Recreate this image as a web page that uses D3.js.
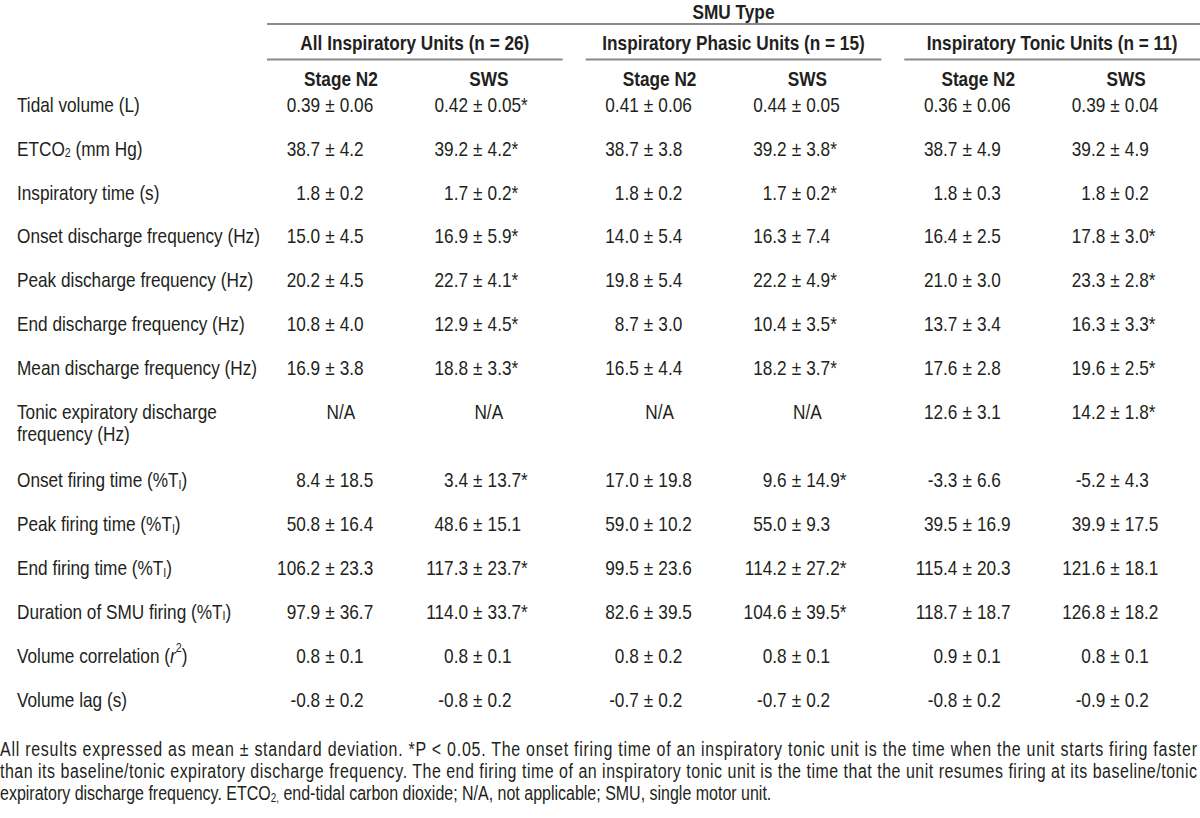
<!DOCTYPE html>
<html>
<head>
<meta charset="utf-8">
<script src="https://cdn.jsdelivr.net/npm/d3@7"></script>
<style>
  html, body { margin: 0; padding: 0; background: #ffffff; }
  svg { display: block; }
</style>
</head>
<body>
<svg id="chart" width="1200" height="818"></svg>
<script>
// ---------------- data ----------------
const spanTitle = "SMU Type";
const groups = ["All Inspiratory Units (n = 26)", "Inspiratory Phasic Units (n = 15)", "Inspiratory Tonic Units (n = 11)"];
const stages = ["Stage N2", "SWS"];
const rowLabels = [
  "Tidal volume (L)",
  "ETCO_{2} (mm Hg)",
  "Inspiratory time (s)",
  "Onset discharge frequency (Hz)",
  "Peak discharge frequency (Hz)",
  "End discharge frequency (Hz)",
  "Mean discharge frequency (Hz)",
  "Tonic expiratory discharge|frequency (Hz)",
  "Onset firing time (%T_{I})",
  "Peak firing time (%T_{I})",
  "End firing time (%T_{I})",
  "Duration of SMU firing (%T_{I})",
  "Volume correlation ({i:r}^{2})",
  "Volume lag (s)"
];
const allN2 = ["0.39 ± 0.06","38.7 ± 4.2","1.8 ± 0.2","15.0 ± 4.5","20.2 ± 4.5","10.8 ± 4.0","16.9 ± 3.8","N/A","8.4 ± 18.5","50.8 ± 16.4","106.2 ± 23.3","97.9 ± 36.7","0.8 ± 0.1","-0.8 ± 0.2"];
const allSWS = ["0.42 ± 0.05*","39.2 ± 4.2*","1.7 ± 0.2*","16.9 ± 5.9*","22.7 ± 4.1*","12.9 ± 4.5*","18.8 ± 3.3*","N/A","3.4 ± 13.7*","48.6 ± 15.1","117.3 ± 23.7*","114.0 ± 33.7*","0.8 ± 0.1","-0.8 ± 0.2"];
const phasicN2 = ["0.41 ± 0.06","38.7 ± 3.8","1.8 ± 0.2","14.0 ± 5.4","19.8 ± 5.4","8.7 ± 3.0","16.5 ± 4.4","N/A","17.0 ± 19.8","59.0 ± 10.2","99.5 ± 23.6","82.6 ± 39.5","0.8 ± 0.2","-0.7 ± 0.2"];
const phasicSWS = ["0.44 ± 0.05","39.2 ± 3.8*","1.7 ± 0.2*","16.3 ± 7.4","22.2 ± 4.9*","10.4 ± 3.5*","18.2 ± 3.7*","N/A","9.6 ± 14.9*","55.0 ± 9.3","114.2 ± 27.2*","104.6 ± 39.5*","0.8 ± 0.1","-0.7 ± 0.2"];
const tonicN2 = ["0.36 ± 0.06","38.7 ± 4.9","1.8 ± 0.3","16.4 ± 2.5","21.0 ± 3.0","13.7 ± 3.4","17.6 ± 2.8","12.6 ± 3.1","-3.3 ± 6.6","39.5 ± 16.9","115.4 ± 20.3","118.7 ± 18.7","0.9 ± 0.1","-0.8 ± 0.2"];
const tonicSWS = ["0.39 ± 0.04","39.2 ± 4.9","1.8 ± 0.2","17.8 ± 3.0*","23.3 ± 2.8*","16.3 ± 3.3*","19.6 ± 2.5*","14.2 ± 1.8*","-5.2 ± 4.3","39.9 ± 17.5","121.6 ± 18.1","126.8 ± 18.2","0.8 ± 0.1","-0.9 ± 0.2"];
const footnoteLines = [
  "All results expressed as mean ± standard deviation. *P < 0.05. The onset firing time of an inspiratory tonic unit is the time when the unit starts firing faster",
  "than its baseline/tonic expiratory discharge frequency. The end firing time of an inspiratory tonic unit is the time that the unit resumes firing at its baseline/tonic",
  "expiratory discharge frequency. ETCO_{2,} end-tidal carbon dioxide; N/A, not applicable; SMU, single motor unit."
];

// ---------------- layout ----------------
const svg = d3.select("#chart");
const W = 1200;
const textColor = "#231f20";
const ruleColor = "#8a8a8a";
const fs = 21;

// font check: narrow face available?
let family = "'Liberation Sans Narrow', 'Arial Narrow'";
let sx = 1;
{
  const t1 = svg.append("text").attr("font-family", "'Liberation Sans Narrow', 'Arial Narrow', monospace").attr("font-size", 20).text("Onset firing time abcdefg");
  const t2 = svg.append("text").attr("font-family", "'Liberation Sans', Arial, monospace").attr("font-size", 20).text("Onset firing time abcdefg");
  const w1 = t1.node().getComputedTextLength(), w2 = t2.node().getComputedTextLength();
  t1.remove(); t2.remove();
  if (!(w1 < w2 * 0.9)) { family = "'Liberation Sans', Arial"; sx = 0.82; }
}

function addRich(g, str, opts) {
  const t = g.append("text")
    .attr("transform", `translate(${opts.x},${opts.y}) scale(${sx},1)`)
    .attr("text-anchor", opts.anchor || "start")
    .attr("dominant-baseline", "central")
    .attr("font-family", family)
    .attr("font-size", opts.size || fs)
    .attr("font-weight", opts.weight || "normal")
    .attr("fill", textColor)
    .attr("xml:space", "preserve");
  const parts = str.split(/(_\{[^}]*\}|\^\{[^}]*\}|\{i:[^}]*\})/).filter(s => s.length);
  let shift = 0;
  parts.forEach(p => {
    let txt = p, dy = 0, small = false, italic = false;
    if (p.startsWith("_{")) { txt = p.slice(2, -1); dy = 5; small = true; }
    else if (p.startsWith("^{")) { txt = p.slice(2, -1); dy = -7; small = true; }
    else if (p.startsWith("{i:")) { txt = p.slice(3, -1); italic = true; }
    const ts = t.append("tspan").text(txt).attr("dy", dy - shift);
    shift = dy;
    if (small) ts.attr("font-size", (opts.size || fs) * 0.62);
    if (italic) ts.attr("font-style", "italic");
  });
  if (opts.textLength) t.attr("textLength", opts.textLength / sx).attr("lengthAdjust", "spacing");
  return t;
}

// columns
const xGroup = d3.scaleBand().domain(groups).range([267, W]).paddingInner(0.072).paddingOuter(0);
const xStage = d3.scaleBand().domain(stages).range([0, xGroup.bandwidth()]);
const columns = [
  { group: groups[0], stage: stages[0], values: allN2 },
  { group: groups[0], stage: stages[1], values: allSWS },
  { group: groups[1], stage: stages[0], values: phasicN2 },
  { group: groups[1], stage: stages[1], values: phasicSWS },
  { group: groups[2], stage: stages[0], values: tonicN2 },
  { group: groups[2], stage: stages[1], values: tonicSWS }
];
const colX = c => xGroup(c.group) + xStage(c.stage) + xStage.bandwidth() / 2;
const pmOffset = -11;   // values are aligned on the ± sign, a little left of the column centre
const pmHalf = 5;

// rows: cumulative units (2-line row is taller)
const rowUnits = [];
{
  let u = 0;
  rowLabels.forEach((l, i) => { rowUnits.push(u); u += l.includes("|") ? 1.54 : 1; });
}
const yRow = d3.scaleLinear().domain([0, rowUnits[rowUnits.length - 1]]).range([104, 699]);
const lineGap = 22;

// header
const head = svg.append("g");
const [x0, x1] = xGroup.range();
addRich(head, spanTitle, { x: (x0 + x1) / 2, y: 11.5, anchor: "middle", weight: "bold" });
head.append("line").attr("x1", x0).attr("x2", x1).attr("y1", 24).attr("y2", 24)
  .attr("stroke", ruleColor).attr("stroke-width", 2);
groups.forEach(g => {
  addRich(head, g, { x: xGroup(g) + xGroup.bandwidth() / 2, y: 42.5, anchor: "middle", weight: "bold" });
  head.append("line").attr("x1", xGroup(g)).attr("x2", xGroup(g) + xGroup.bandwidth())
    .attr("y1", 59.5).attr("y2", 59.5).attr("stroke", ruleColor).attr("stroke-width", 2);
});
columns.forEach(c => addRich(head, c.stage, { x: colX(c), y: 78, anchor: "middle", weight: "bold" }));

// body
const body = svg.append("g");
rowLabels.forEach((lab, i) => {
  const y = yRow(rowUnits[i]);
  lab.split("|").forEach((ln, k) => addRich(body, ln, { x: 17, y: y + k * lineGap }));
});
columns.forEach(c => {
  c.values.forEach((v, i) => {
    const y = yRow(rowUnits[i]);
    const k = v.indexOf("±");
    if (k < 0) { addRich(body, v, { x: colX(c), y, anchor: "middle" }); return; }
    const px = colX(c) + pmOffset;
    addRich(body, v.slice(0, k), { x: px - pmHalf, y, anchor: "end" });
    addRich(body, "±", { x: px, y, anchor: "middle" });
    addRich(body, v.slice(k + 1), { x: px + pmHalf, y, anchor: "start" });
  });
});

// footnote
const foot = svg.append("g");
footnoteLines.forEach((ln, i) => {
  addRich(foot, ln, { x: 0, y: 749 + i * 22, size: 19.5, textLength: i < 2 ? 1197 : null });
});
</script>
</body>
</html>
